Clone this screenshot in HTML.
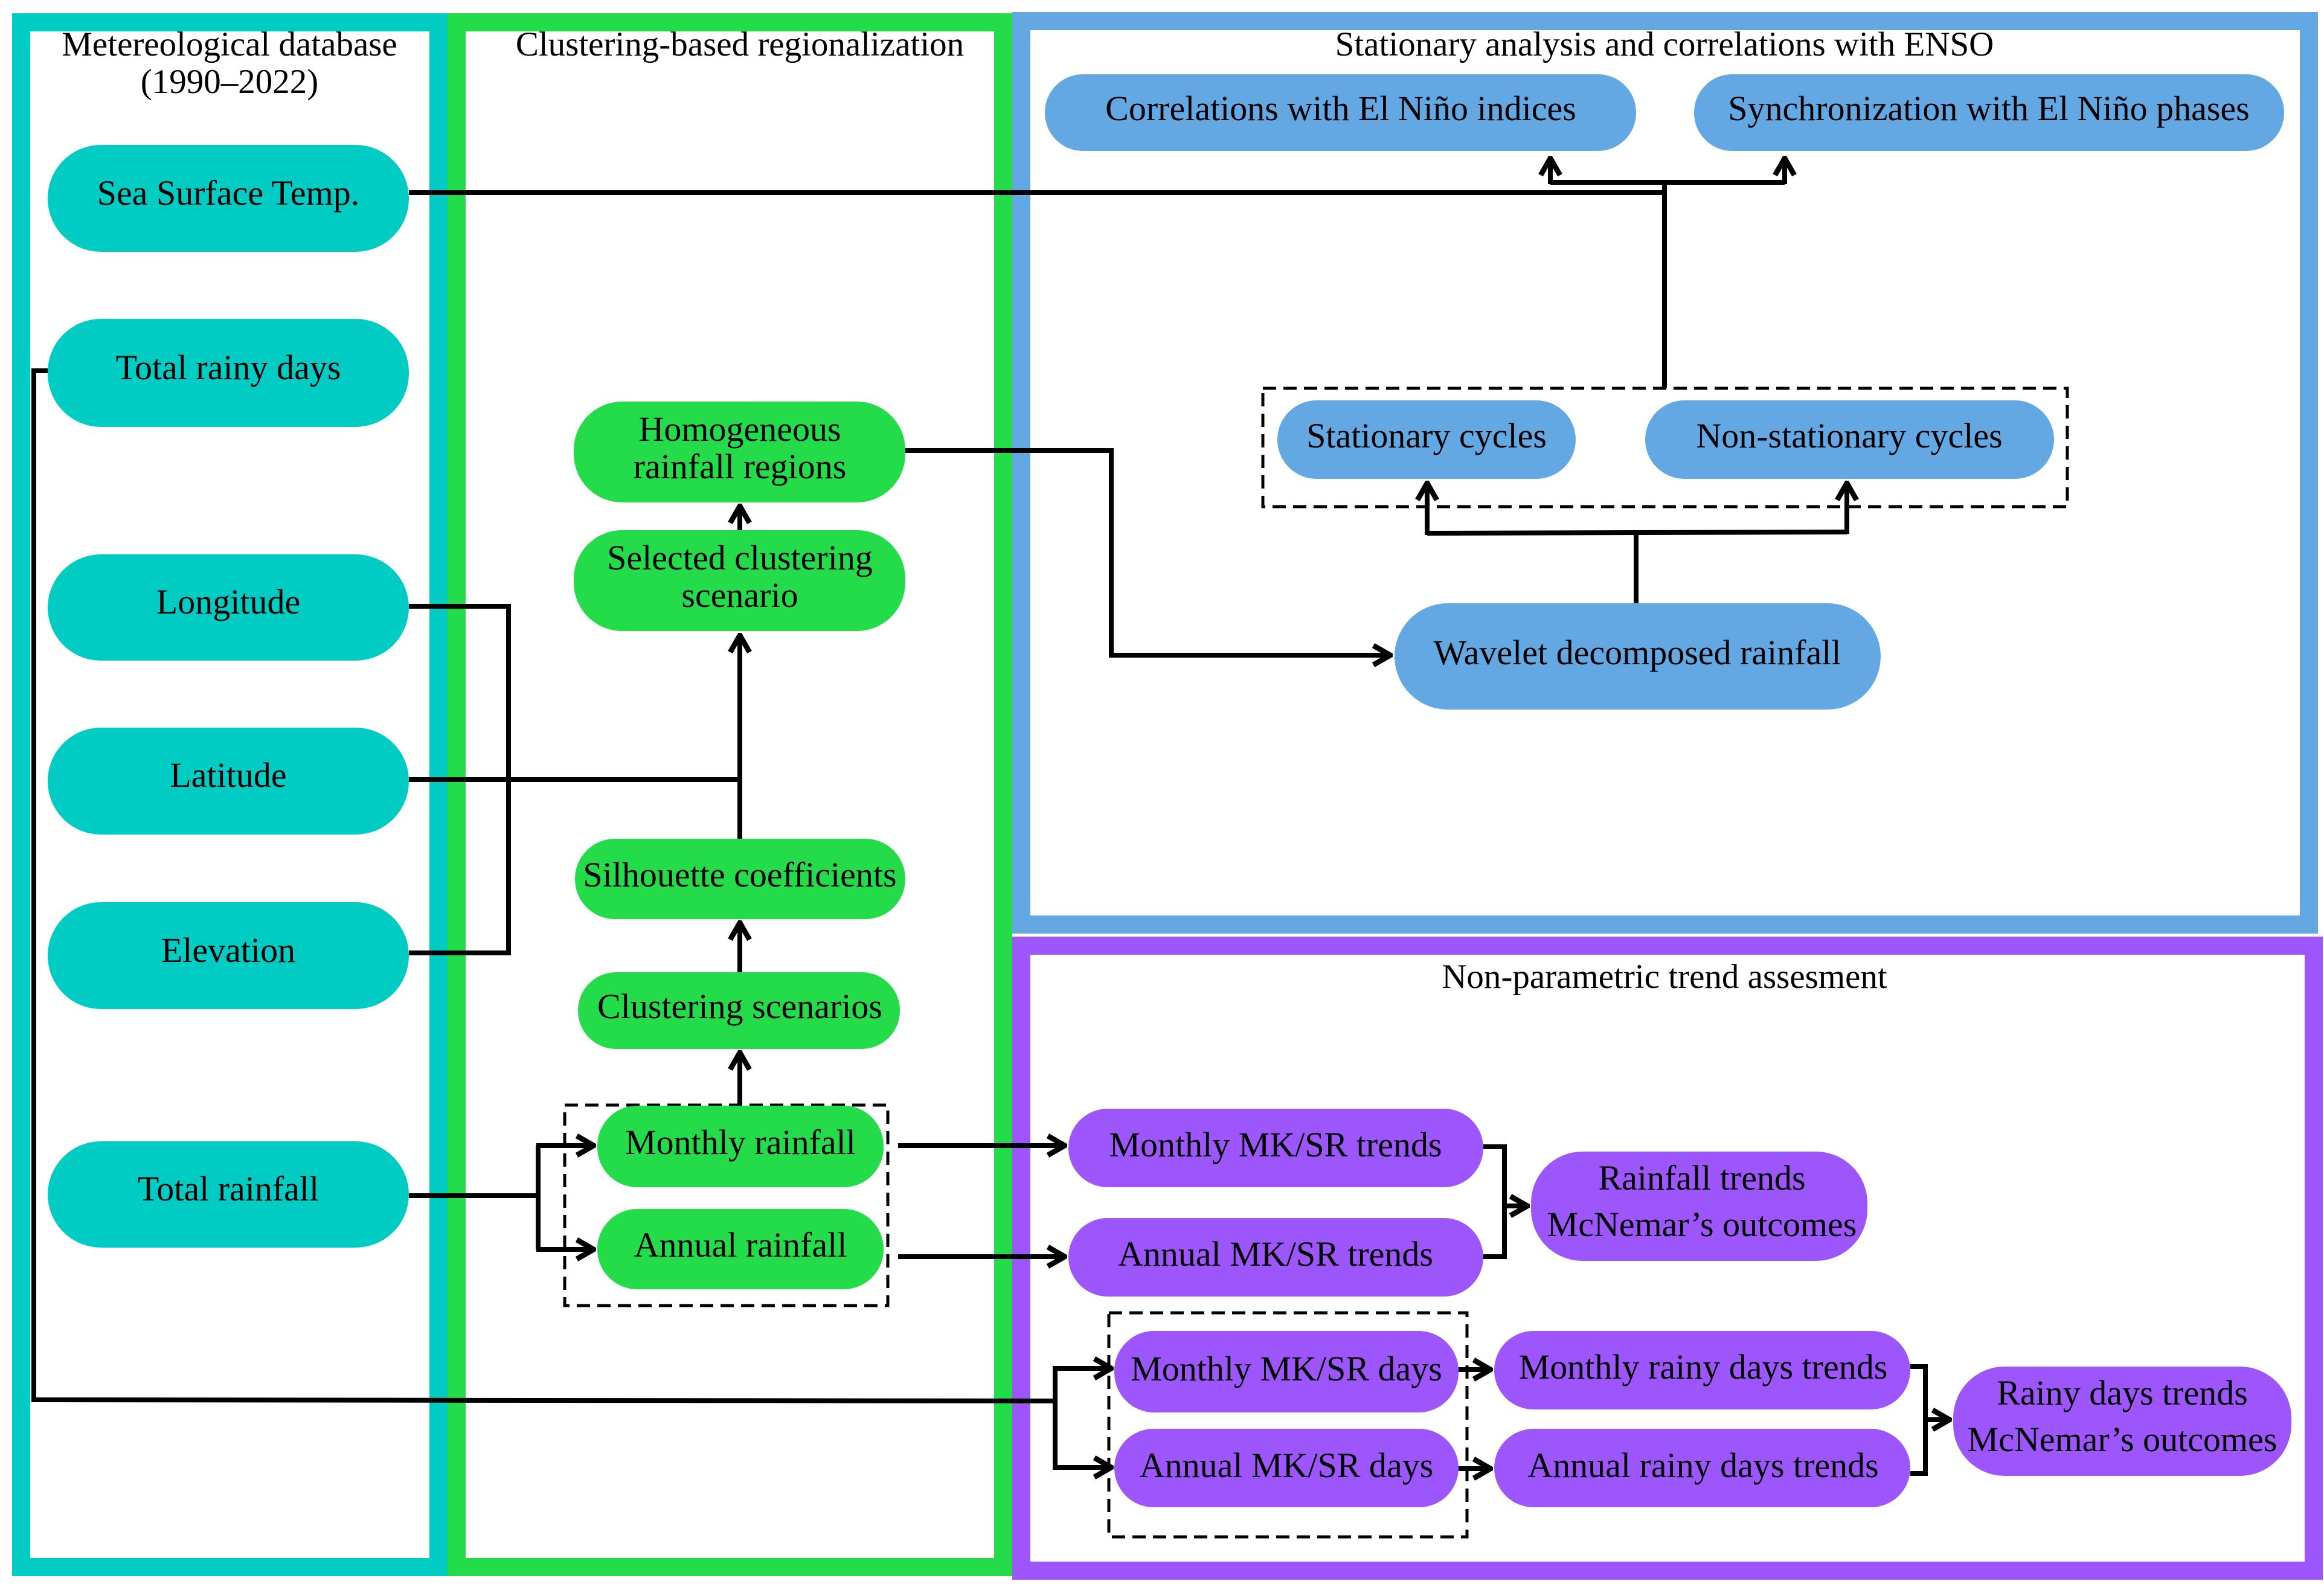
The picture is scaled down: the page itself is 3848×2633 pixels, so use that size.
<!DOCTYPE html>
<html><head><meta charset="utf-8"><style>
html,body{margin:0;padding:0;background:#fff;}
svg{display:block;}
svg text{font-family:"Liberation Serif","Times New Roman",serif !important;font-size:58px;fill:#000;}
svg text.t{font-size:57px;}
</style></head><body>
<svg width="3848" height="2633" viewBox="0 0 3848 2633" xmlns="http://www.w3.org/2000/svg" font-family="Liberation Serif, serif">
<defs>
<marker id="a" viewBox="0 0 10 10" refX="9" refY="5" markerWidth="5" markerHeight="5" markerUnits="strokeWidth" orient="auto">
<polyline points="2,1 9,5 2,9" fill="none" stroke="#000" stroke-width="2.2"/>
</marker>
</defs>
<rect x="35" y="37" width="691" height="2558" fill="none" stroke="#00CCC4" stroke-width="30"/>
<rect x="756" y="37" width="905" height="2558" fill="none" stroke="#24DB4A" stroke-width="30"/>
<rect x="1691" y="35" width="2132" height="1496" fill="none" stroke="#63A8E3" stroke-width="30"/>
<rect x="1691" y="1566" width="2140" height="1035" fill="none" stroke="#9C56FB" stroke-width="30"/>

<g font-family="Liberation Serif, serif">
<text class="t" x="380" y="92" text-anchor="middle">Metereological database</text>
<text class="t" x="380" y="154" text-anchor="middle">(1990–2022)</text>
<text class="t" x="1225" y="92" text-anchor="middle">Clustering-based regionalization</text>
<text class="t" x="2756" y="92" text-anchor="middle">Stationary analysis and correlations with ENSO</text>
<text class="t" x="2756" y="1636" text-anchor="middle">Non-parametric trend assesment</text>
</g>

<g fill="none" stroke="#000" stroke-width="5" stroke-dasharray="22,12">
<rect x="935" y="1830" width="535" height="332"/>
<rect x="2091" y="643" width="1332" height="196"/>
<rect x="1836" y="2174" width="593" height="371"/>
</g>

<g fill="#00CCC4">
<rect x="79" y="240" width="598" height="177" rx="88"/>
<rect x="79" y="528" width="598" height="179" rx="88"/>
<rect x="79" y="918" width="598" height="176" rx="88"/>
<rect x="79" y="1205" width="598" height="177" rx="88"/>
<rect x="79" y="1494" width="598" height="177" rx="88"/>
<rect x="79" y="1890" width="598" height="176" rx="88"/>
</g>
<g font-family="Liberation Serif, serif">
<text x="378" y="339" text-anchor="middle">Sea Surface Temp.</text>
<text x="378" y="628" text-anchor="middle">Total rainy days</text>
<text x="378" y="1016" text-anchor="middle">Longitude</text>
<text x="378" y="1303" text-anchor="middle">Latitude</text>
<text x="378" y="1593" text-anchor="middle">Elevation</text>
<text x="378" y="1988" text-anchor="middle">Total rainfall</text>
</g>

<g fill="#24DB4A">
<rect x="950" y="665" width="549" height="167" rx="80"/>
<rect x="950" y="878" width="549" height="167" rx="80"/>
<rect x="952" y="1389" width="547" height="133" rx="66"/>
<rect x="957" y="1610" width="533" height="127" rx="63"/>
<rect x="989" y="1831" width="474" height="135" rx="66"/>
<rect x="989" y="2002" width="474" height="133" rx="66"/>
</g>
<g font-family="Liberation Serif, serif">
<text x="1225" y="730" text-anchor="middle">Homogeneous</text>
<text x="1225" y="792" text-anchor="middle">rainfall regions</text>
<text x="1225" y="943" text-anchor="middle">Selected clustering</text>
<text x="1225" y="1005" text-anchor="middle">scenario</text>
<text x="1225" y="1468" text-anchor="middle">Silhouette coefficients</text>
<text x="1225" y="1686" text-anchor="middle">Clustering scenarios</text>
<text x="1226" y="1911" text-anchor="middle">Monthly rainfall</text>
<text x="1226" y="2081" text-anchor="middle">Annual rainfall</text>
</g>

<g fill="#63A8E3">
<rect x="1730" y="123" width="979" height="127" rx="63"/>
<rect x="2805" y="123" width="977" height="127" rx="63"/>
<rect x="2115" y="663" width="494" height="130" rx="65"/>
<rect x="2724" y="663" width="677" height="130" rx="65"/>
<rect x="2309" y="999" width="805" height="176" rx="88"/>
</g>
<g font-family="Liberation Serif, serif">
<text x="2220" y="199" text-anchor="middle">Correlations with El Niño indices</text>
<text x="3293" y="199" text-anchor="middle">Synchronization with El Niño phases</text>
<text x="2362" y="741" text-anchor="middle">Stationary cycles</text>
<text x="3062" y="741" text-anchor="middle">Non-stationary cycles</text>
<text x="2711" y="1100" text-anchor="middle">Wavelet decomposed rainfall</text>
</g>

<g fill="#9C56FB">
<rect x="1769" y="1836" width="687" height="130" rx="65"/>
<rect x="1769" y="2017" width="687" height="130" rx="65"/>
<rect x="2535" y="1907" width="557" height="181" rx="85"/>
<rect x="1845" y="2204" width="570" height="135" rx="66"/>
<rect x="1845" y="2366" width="570" height="130" rx="65"/>
<rect x="2474" y="2204" width="689" height="130" rx="65"/>
<rect x="2474" y="2366" width="689" height="130" rx="65"/>
<rect x="3234" y="2263" width="560" height="181" rx="85"/>
</g>
<g font-family="Liberation Serif, serif">
<text x="2112" y="1915" text-anchor="middle">Monthly MK/SR trends</text>
<text x="2112" y="2096" text-anchor="middle">Annual MK/SR trends</text>
<text x="2818" y="1970" text-anchor="middle">Rainfall trends</text>
<text x="2818" y="2047" text-anchor="middle">McNemar’s outcomes</text>
<text x="2130" y="2286" text-anchor="middle">Monthly MK/SR days</text>
<text x="2130" y="2446" text-anchor="middle">Annual MK/SR days</text>
<text x="2820" y="2283" text-anchor="middle">Monthly rainy days trends</text>
<text x="2820" y="2446" text-anchor="middle">Annual rainy days trends</text>
<text x="3514" y="2326" text-anchor="middle">Rainy days trends</text>
<text x="3514" y="2403" text-anchor="middle">McNemar’s outcomes</text>
</g>

<g fill="none" stroke="#000" stroke-width="8">
<polyline points="677,319 2756,319"/>
<polyline points="2756,643 2756,302"/>
<polyline points="2567,302 2955,302"/>
<polyline points="2567,305 2567,262" marker-end="url(#a)"/>
<polyline points="2955,305 2955,262" marker-end="url(#a)"/>

<polyline points="79,614 56,614 56,2318 1747,2320"/>
<polyline points="1750,2266 1747,2266 1747,2430 1750,2430"/>
<polyline points="1747,2266 1840,2266" marker-end="url(#a)"/>
<polyline points="1747,2430 1840,2430" marker-end="url(#a)"/>

<polyline points="677,1004 842,1004 842,1578 677,1578"/>
<polyline points="677,1291 1225,1291"/>
<polyline points="1225,1389 1225,1052" marker-end="url(#a)"/>
<polyline points="1225,878 1225,838" marker-end="url(#a)"/>
<polyline points="1225,1610 1225,1528" marker-end="url(#a)"/>
<polyline points="1225,1831 1225,1743" marker-end="url(#a)"/>

<polyline points="1499,746 1840,746 1840,1085 2302,1085" marker-end="url(#a)"/>

<polyline points="2709,999 2709,883"/>
<polyline points="2363,883 3058,881"/>
<polyline points="2363,886 2363,800" marker-end="url(#a)"/>
<polyline points="3058,884 3058,800" marker-end="url(#a)"/>

<polyline points="677,1980 891,1980"/>
<polyline points="891,1897 891,2069"/>
<polyline points="888,1897 983,1897" marker-end="url(#a)"/>
<polyline points="888,2069 983,2069" marker-end="url(#a)"/>

<polyline points="1487,1897 1763,1897" marker-end="url(#a)"/>
<polyline points="1487,2081 1763,2081" marker-end="url(#a)"/>

<polyline points="2456,1899 2491,1899 2491,2081 2456,2081"/>
<polyline points="2491,1997 2529,1997" marker-end="url(#a)"/>

<polyline points="2415,2268 2468,2268" marker-end="url(#a)"/>
<polyline points="2415,2432 2468,2432" marker-end="url(#a)"/>

<polyline points="3163,2263 3188,2263 3188,2440 3163,2440"/>
<polyline points="3188,2351 3228,2351" marker-end="url(#a)"/>
</g>
</svg>
</body></html>
